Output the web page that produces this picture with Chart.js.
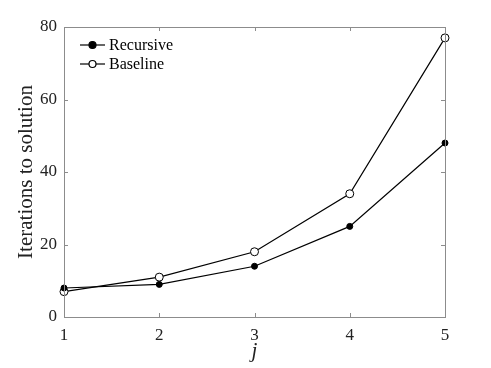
<!DOCTYPE html>
<html>
<head>
<meta charset="utf-8">
<script src="https://cdn.jsdelivr.net/npm/chart.js@4"></script>
<style>
  html, body { margin: 0; padding: 0; background: #fff; }
  #wrap { width: 491px; height: 368px; }
</style>
</head>
<body>
<div id="wrap"><canvas id="chart" width="491" height="368"></canvas></div>
<script>
const jValues = [1, 2, 3, 4, 5];
const recursive = [8, 9, 14, 25, 48];
const baseline = [7, 11, 18, 34, 77];
const yTicks = [0, 20, 40, 60, 80];

const FONT = "'Liberation Serif', 'DejaVu Serif', serif";

// box + inward ticks + legend inside the plot
const framePlugin = {
  id: "frame",
  afterDraw(chart) {
    const ctx = chart.ctx;
    const a = chart.chartArea;
    const xs = chart.scales.x;
    const ys = chart.scales.y;
    ctx.save();
    ctx.strokeStyle = "#8c8c8c";
    ctx.lineWidth = 1;
    ctx.strokeRect(a.left + 0.5, a.top + 0.5, a.right - a.left, a.bottom - a.top);
    ctx.beginPath();
    jValues.forEach((v) => {
      const px = Math.round(xs.getPixelForValue(v)) + 0.5;
      ctx.moveTo(px, a.bottom); ctx.lineTo(px, a.bottom - 4);
      ctx.moveTo(px, a.top); ctx.lineTo(px, a.top + 4);
    });
    yTicks.forEach((v) => {
      const py = Math.round(ys.getPixelForValue(v)) + 0.5;
      ctx.moveTo(a.left, py); ctx.lineTo(a.left + 4, py);
      ctx.moveTo(a.right, py); ctx.lineTo(a.right - 4, py);
    });
    ctx.stroke();

    // legend
    const items = chart.data.datasets;
    ctx.font = "16px " + FONT;
    ctx.textBaseline = "middle";
    items.forEach((ds, i) => {
      const y = a.top + 18 + i * 19;
      const x0 = a.left + 16;
      ctx.strokeStyle = "#000";
      ctx.lineWidth = 1.2;
      ctx.beginPath();
      ctx.moveTo(x0, y); ctx.lineTo(x0 + 25, y);
      ctx.stroke();
      ctx.beginPath();
      ctx.arc(x0 + 12.5, y, 3.5, 0, Math.PI * 2);
      ctx.fillStyle = ds.pointBackgroundColor;
      ctx.fill();
      ctx.stroke();
      ctx.fillStyle = "#000";
      ctx.fillText(ds.label, x0 + 29, y + 1);
    });
    ctx.restore();
  },
};

new Chart(document.getElementById("chart"), {
  type: "line",
  data: {
    datasets: [
      {
        label: "Recursive",
        data: jValues.map((j, i) => ({ x: j, y: recursive[i] })),
        borderColor: "#000",
        borderWidth: 1.2,
        pointBackgroundColor: "#000",
        pointBorderColor: "#000",
        pointRadius: 3,
        pointBorderWidth: 1,
        tension: 0,
      },
      {
        label: "Baseline",
        data: jValues.map((j, i) => ({ x: j, y: baseline[i] })),
        borderColor: "#000",
        borderWidth: 1.2,
        pointBackgroundColor: "#fff",
        pointBorderColor: "#000",
        pointRadius: 4,
        pointBorderWidth: 1,
        tension: 0,
      },
    ],
  },
  options: {
    responsive: false,
    animation: false,
    clip: false,
    layout: { padding: { top: 27, right: 46, left: 0, bottom: 0 } },
    plugins: { legend: { display: false }, tooltip: { enabled: false } },
    scales: {
      x: {
        type: "linear",
        min: 1,
        max: 5,
        afterBuildTicks: (s) => { s.ticks = jValues.map((v) => ({ value: v })); },
        grid: { display: false, drawTicks: false },
        border: { display: false },
        ticks: { color: "#222", font: { family: FONT, size: 17 }, padding: 8, maxRotation: 0 },
        title: { display: true, text: "j", color: "#222", font: { family: FONT, size: 21, style: "italic" }, padding: { top: 0 } },
        afterFit: (s) => { s.height = 51; },
      },
      y: {
        min: 0,
        max: 80,
        afterBuildTicks: (s) => { s.ticks = yTicks.map((v) => ({ value: v })); },
        grid: { display: false, drawTicks: false },
        border: { display: false },
        ticks: { color: "#222", font: { family: FONT, size: 17 }, padding: 7 },
        title: { display: true, text: "Iterations to solution", color: "#222", font: { family: FONT, size: 21 }, padding: { top: 14, bottom: 2 } },
        afterFit: (s) => { s.width = 64; },
      },
    },
  },
  plugins: [framePlugin],
});
</script>
</body>
</html>
